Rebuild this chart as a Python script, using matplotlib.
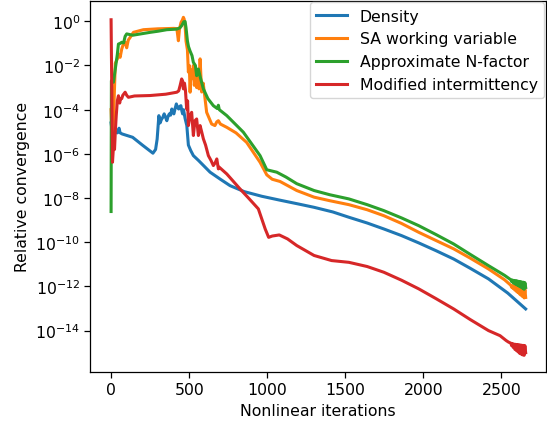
import numpy as np
from matplotlib import pyplot as plt
from matplotlib.ticker import NullLocator

# iterations and log10 of the relative convergence
density_it = [0, 12, 25, 40, 51, 58, 71, 138, 200, 268, 285, 295, 306, 314, 322,
              331, 340, 349, 357, 365, 373, 381, 389, 396, 402, 410, 418, 425, 433,
              440, 447, 453, 458, 464, 474, 485, 495, 510, 527, 560, 634, 700, 762,
              853, 965, 1077, 1200, 1300, 1420, 1523, 1640, 1747, 1860, 1970, 2080,
              2194, 2300, 2417, 2540, 2655]
density_exp = [-4.6, -5.3, -5.0, -5.05, -4.84, -5.05, -5.10, -5.25, -5.6, -5.97,
               -5.8, -5.33, -4.27, -4.6, -4.45, -4.35, -4.19, -4.35, -4.50, -4.3,
               -4.19, -4.25, -3.97, -4.1, -4.19, -3.95, -3.74, -3.9, -3.97, -3.85,
               -3.82, -4.05, -4.19, -4.0, -4.4, -4.72, -5.6, -5.85, -6.08, -6.3,
               -6.83, -7.15, -7.44, -7.71, -7.92, -8.09, -8.27, -8.42, -8.63, -8.87,
               -9.13, -9.40, -9.70, -10.03, -10.38, -10.76, -11.18, -11.66, -12.3,
               -13.02]

sa_it = [0, 8, 15, 22, 27, 40, 50, 58, 68, 80, 90, 100, 110, 122, 143, 207, 300,
         357, 400, 421, 426, 431, 438, 448, 456, 463, 468, 474, 480, 489, 495, 501,
         506, 512, 518, 527, 533, 540, 548, 555, 563, 570, 580, 590, 612, 644, 665,
         677, 687, 700, 741, 800, 868, 954, 997, 1032, 1082, 1189, 1300, 1400, 1523,
         1640, 1747, 1860, 1970, 2080, 2194, 2300, 2417, 2520,
         2560, 2565, 2570, 2575, 2580, 2585, 2590, 2595, 2600, 2605,
         2610, 2615, 2620, 2625, 2630, 2635, 2640, 2645, 2650, 2655]
sa_exp = [-4.0, -5.6, -4.6, -3.0, -1.9, -1.7, -1.5, -1.63, -1.26, -1.0, -0.95,
          -1.2, -0.85, -0.73, -0.5, -0.38, -0.34, -0.33, -0.32, -0.33, -0.6, -0.88,
          -0.35, -0.05, 0.05, 0.18, 0.1, -0.2, -0.9, -1.3, -2.3, -2.0, -3.21, -2.2,
          -2.6, -2.0, -2.9, -2.3, -3.0, -2.4, -3.06, -1.7, -3.2, -2.8, -4.12,
          -4.65, -4.72, -4.55, -4.5, -4.65, -4.8, -5.05, -5.48, -6.38, -6.95,
          -7.15, -7.25, -7.66, -7.96, -8.12, -8.3, -8.53, -8.80, -9.15, -9.55,
          -9.92, -10.30, -10.72, -11.21, -11.7,
          -11.95, -12.04, -11.97, -12.1, -11.99, -12.16, -12.01, -12.22, -12.03,
          -12.28, -12.05, -12.34, -12.07, -12.4, -12.09, -12.46, -12.11, -12.52,
          -12.13, -12.5]

nf_it = [0, 2, 15, 26, 40, 47, 58, 68, 80, 90, 100, 139, 250, 300, 357, 407, 421,
         440, 452, 466, 474, 480, 489, 496, 506, 518, 527, 540, 548, 559, 570, 591,
         620, 655, 680, 687, 693, 741, 847, 954, 997, 1061, 1120, 1189, 1300, 1400,
         1523, 1640, 1747, 1860, 1970, 2080, 2194, 2300, 2417, 2520,
         2560, 2565, 2570, 2575, 2580, 2585, 2590, 2595, 2600, 2605,
         2610, 2615, 2620, 2625, 2630, 2635, 2640, 2645, 2650, 2655]
nf_exp = [-8.61, -2.69, -2.76, -2.2, -1.5, -1.03, -1.0, -0.95, -0.98, -0.68, -0.57,
          -0.63, -0.5, -0.45, -0.38, -0.36, -0.35, -0.3, -0.2, -0.02, -0.01, -0.3,
          -0.9, -1.15, -1.35, -1.55, -1.86, -2.0, -2.46, -2.16, -2.5, -3.06, -3.5,
          -3.82, -3.95, -3.8, -4.0, -4.27, -5.02, -6.08, -6.72, -6.83, -7.05,
          -7.35, -7.66, -7.85, -8.04, -8.3, -8.57, -8.9, -9.25, -9.65, -10.08,
          -10.55, -11.06, -11.5,
          -11.7, -11.78, -11.71, -11.84, -11.73, -11.88, -11.74, -11.92, -11.75,
          -11.96, -11.77, -12.0, -11.78, -12.04, -11.8, -12.08, -11.81, -12.13,
          -11.83, -12.05]

mi_it = [0, 9, 16, 22, 27, 33, 40, 47, 55, 60, 68, 75, 90, 100, 111, 150, 250, 350,
         421, 433, 442, 452, 458, 463, 470, 476, 484, 490, 495, 505, 516, 527, 537,
         548, 559, 570, 580, 591, 605, 623, 640, 655, 667, 677, 683, 687, 692, 741,
         826, 880, 943, 987, 1009, 1032, 1077, 1130, 1189, 1300, 1412, 1523, 1640,
         1747, 1860, 1970, 2080, 2194, 2300, 2417, 2491, 2530, 2545,
         2560, 2565, 2570, 2575, 2580, 2585, 2590, 2595, 2600, 2605,
         2610, 2615, 2620, 2625, 2630, 2635, 2640, 2645, 2650, 2655]
mi_exp = [0.07, -6.38, -5.6, -5.8, -5.0, -4.27, -3.6, -3.37, -3.7, -3.51, -3.5,
          -3.35, -3.21, -3.35, -3.44, -3.38, -3.36, -3.3, -3.21, -3.15, -2.91,
          -2.61, -2.7, -3.06, -2.8, -3.1, -3.97, -3.6, -4.72, -4.3, -4.12, -5.17,
          -4.5, -4.42, -5.17, -4.72, -5.0, -5.32, -5.6, -6.08, -6.3, -6.53, -6.4,
          -6.23, -6.5, -6.68, -6.6, -6.91, -7.59, -8.0, -8.49, -9.40, -9.78, -9.72,
          -9.67, -9.85, -10.15, -10.60, -10.83, -10.91, -11.1, -11.36, -11.72,
          -12.11, -12.55, -13.02, -13.5, -14.0, -14.23, -14.45, -14.52,
          -14.57, -14.68, -14.59, -14.76, -14.61, -14.84, -14.62, -14.9, -14.63,
          -14.96, -14.64, -15.02, -14.65, -15.06, -14.66, -15.1, -14.67, -15.12,
          -14.68, -15.0]

plt.rcParams['font.size'] = 11.3
plt.rcParams['axes.linewidth'] = 0.9
plt.rcParams['xtick.major.size'] = 4
plt.rcParams['ytick.major.size'] = 4
plt.rcParams['xtick.major.width'] = 0.9
plt.rcParams['ytick.major.width'] = 0.9

fig = plt.figure(figsize=(5.47, 4.27), dpi=100)
ax = fig.add_axes([0.1654, 0.1272, 0.8327, 0.8689])

ax.semilogy(density_it, 10.0 ** np.array(density_exp), lw=2.2, label="Density")
ax.semilogy(sa_it, 10.0 ** np.array(sa_exp), lw=2.2, label="SA working variable")
ax.semilogy(nf_it, 10.0 ** np.array(nf_exp), lw=2.2, label="Approximate N-factor")
ax.semilogy(mi_it, 10.0 ** np.array(mi_exp), lw=2.2,
            label="Modified intermittency")

ax.set_xlim(-132, 2785)
ax.set_ylim(10 ** -15.86, 10 ** 0.934)
ax.set_yticks(10.0 ** np.arange(0, -15, -2))
ax.yaxis.set_minor_locator(NullLocator())
ax.set_xlabel("Nonlinear iterations")
ax.set_ylabel("Relative convergence")
ax.legend(loc="upper right", borderaxespad=0.1)

fig.savefig("out.png", dpi=100)
